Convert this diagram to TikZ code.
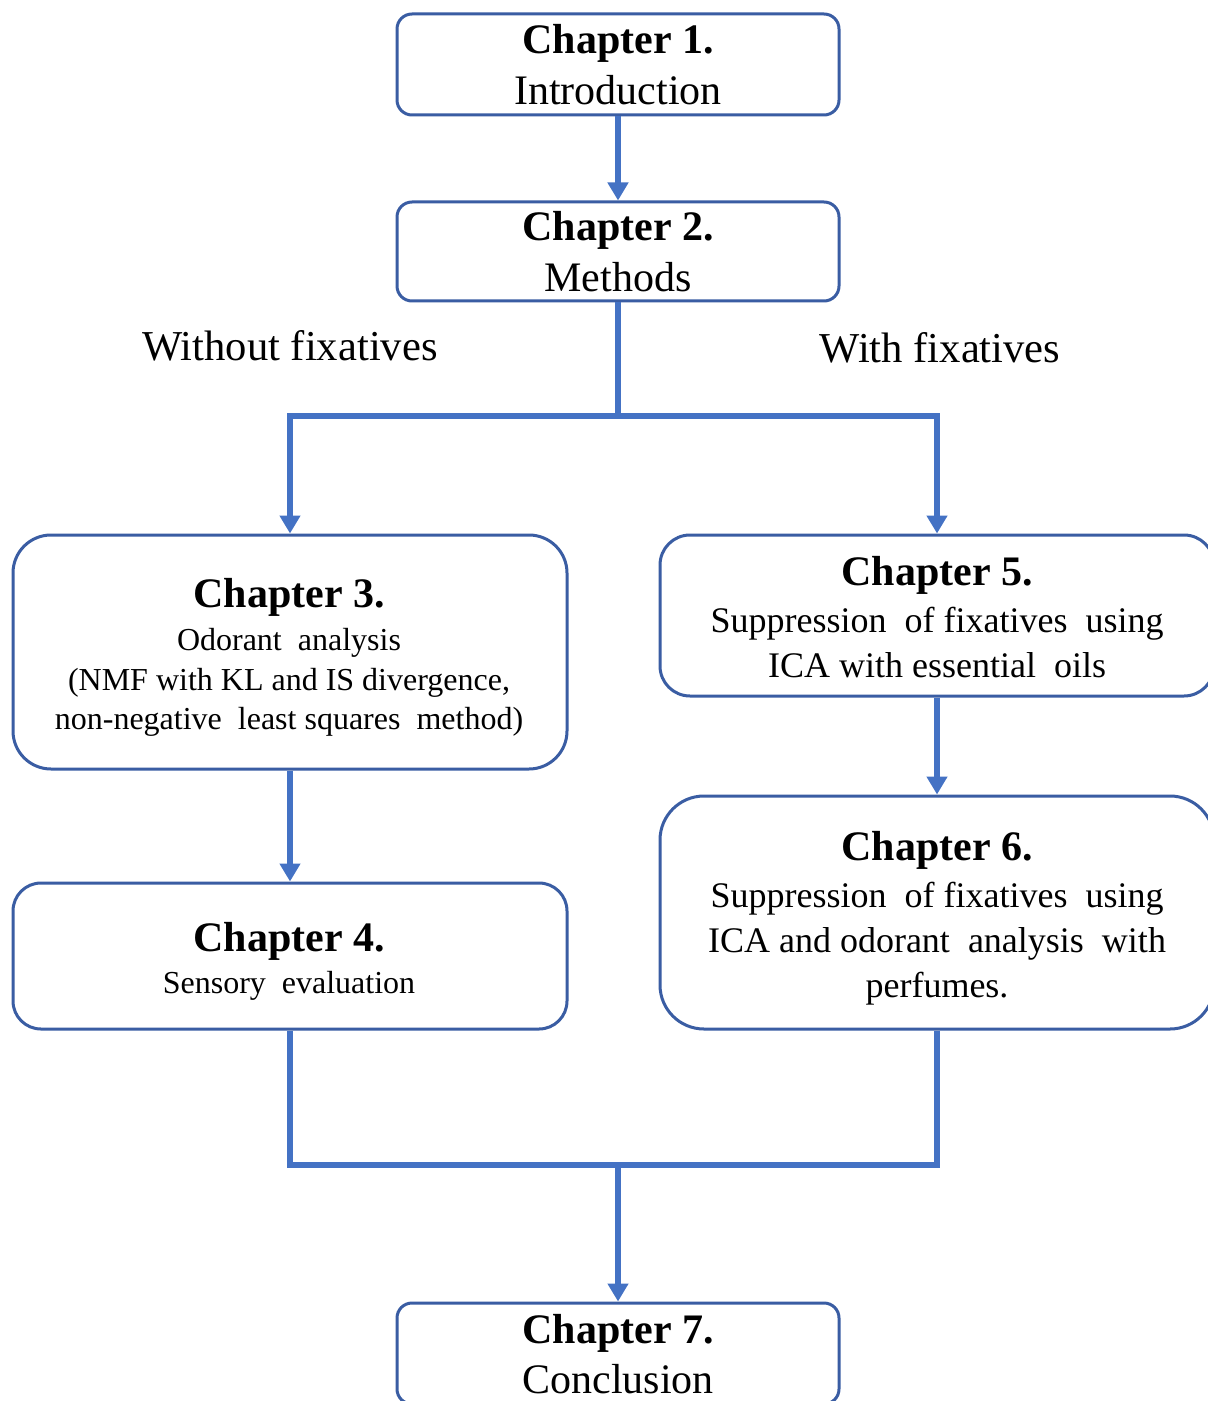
\documentclass[tikz,border=0pt]{standalone}
\usepackage{fontspec}
\setmainfont{Liberation Serif}
\usetikzlibrary{arrows.meta}
\definecolor{boxblue}{HTML}{3A5DA3}
\definecolor{linkblue}{HTML}{4472C4}
\begin{document}
\begin{tikzpicture}[x=0.5pt,y=-0.5pt,
  box/.style={draw=boxblue, line width=1.5pt, fill=white, inner sep=0pt},
  conn/.style={draw=linkblue, line width=2.6pt},
  arr/.style={conn, -{Triangle[width=10pt,length=9pt]}},
  ttl/.style={anchor=base, inner sep=0pt, font=\fontsize{21}{24}\bfseries\selectfont},
  big/.style={anchor=base, inner sep=0pt, font=\fontsize{21}{25}\selectfont},
  lbl/.style={anchor=base, inner sep=0pt, font=\fontsize{21.3}{25}\selectfont},
  mid/.style={anchor=base, inner sep=0pt, font=\fontsize{18}{21}\selectfont},
  sml/.style={anchor=base, inner sep=0pt, font=\fontsize{16}{19}\selectfont},
]
\useasboundingbox (0,0) rectangle (1208,1401);
\clip (0,0) rectangle (1208,1401);
\fill[white] (0,0) rectangle (1208,1401);

% boxes
\node[box, rounded corners=7.5pt, minimum width=221pt, minimum height=50.5pt] (c1) at (618,64.5) {};
\node[box, rounded corners=7.5pt, minimum width=221pt, minimum height=49.5pt] (c2) at (618,251.5) {};
\node[box, rounded corners=19pt, minimum width=277pt, minimum height=117pt] (c3) at (290,652) {};
\node[box, rounded corners=14pt, minimum width=277pt, minimum height=73pt] (c4) at (290,956) {};
\node[box, rounded corners=15pt, minimum width=277pt, minimum height=80.5pt] (c5) at (937,615.5) {};
\node[box, rounded corners=22pt, minimum width=277pt, minimum height=116.5pt] (c6) at (937,912.5) {};
\node[box, rounded corners=7.5pt, minimum width=221pt, minimum height=50.5pt] (c7) at (618,1353.5) {};

% connectors
\coordinate (split) at (618,416);
\coordinate (join) at (618,1165);
\draw[arr] (c1.south) -- (c2.north);
\draw[conn] (c2.south) -- (split);
\draw[arr] (split) -| (c3.north);
\draw[arr] (split) -| (c5.north);
\draw[arr] (c3.south) -- (c4.north);
\draw[arr] (c5.south) -- (c6.north);
\draw[conn] (c4.south) |- (join);
\draw[conn] (c6.south) |- (join);
\draw[arr] (join) -- (c7.north);

% texts
\node[ttl] (t1) at (618,54) {Chapter 1.};
\node[big] (s1) at (618,105) {Introduction};
\node[ttl] (t2) at (618,241) {Chapter 2.};
\node[big] (s2) at (618,292) {Methods};

\node[lbl] (wo) at (290,360) {Without fixatives};
\node[lbl] (wi) at (940,363) {With fixatives};

\node[ttl] (t3) at (289,607) {Chapter 3.};
\node[sml] (s3a) at (289,650) {Odorant\ \ analysis};
\node[sml] (s3b) at (289,690) {(NMF with KL and IS divergence,};
\node[sml] (s3c) at (289,729) {non-negative\ \ least squares\ \ method)};

\node[ttl] (t4) at (289,951) {Chapter 4.};
\node[sml] (s4) at (289,993) {Sensory\ \ evaluation};

\node[ttl] (t5) at (937,585) {Chapter 5.};
\node[mid] (s5a) at (937,632) {Suppression\ \ of fixatives\ \ using};
\node[mid] (s5b) at (937,677) {ICA with essential\ \ oils};

\node[ttl] (t6) at (937,860) {Chapter 6.};
\node[mid] (s6a) at (937,907) {Suppression\ \ of fixatives\ \ using};
\node[mid] (s6b) at (937,952) {ICA and odorant\ \ analysis\ \ with};
\node[mid] (s6c) at (937,997) {perfumes.};

\node[ttl] (t7) at (618,1343) {Chapter 7.};
\node[big] (s7) at (618,1393) {Conclusion};
\end{tikzpicture}
\end{document}
